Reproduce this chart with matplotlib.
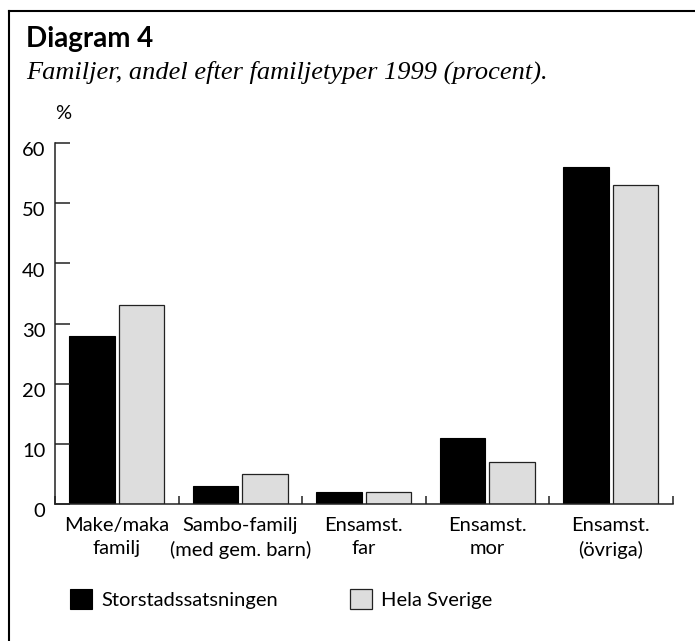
import matplotlib
matplotlib.use("Agg")
import matplotlib.pyplot as plt
import numpy as np
from matplotlib.lines import Line2D
from matplotlib.transforms import ScaledTranslation

categories = ["Make/maka\nfamilj", "Sambo-familj\n(med gem. barn)", "Ensamst.\nfar",
              "Ensamst.\nmor", "Ensamst.\n(övriga)"]
storstad = [28, 3, 2, 11, 56]
sverige = [33, 5, 2, 7, 53]
series_names = ["Storstadssatsningen", "Hela Sverige"]
yticks = [0, 10, 20, 30, 40, 50, 60]

W, H = 695, 641
fig = plt.figure(figsize=(W / 100, H / 100), dpi=100)
plt.rcParams['font.family'] = ['Lato', 'DejaVu Sans']
FS = 14.5
axc = '#222222'

ax = fig.add_axes([55 / W, 1 - 504 / H, (672.5 - 55) / W, (504 - 143) / H])
x = np.arange(len(categories))
bw = 0.37
b1 = ax.bar(x - 0.2, storstad, bw, color='black', edgecolor='black', linewidth=0.8)
b2 = ax.bar(x + 0.2, sverige, bw, color='#dddddd', edgecolor='#222222', linewidth=0.9)

ax.set_xlim(-0.5, len(categories) - 0.5)
ax.set_ylim(0, 60)
for s in ['top', 'right']:
    ax.spines[s].set_visible(False)
for s in ['left', 'bottom']:
    ax.spines[s].set_linewidth(1.1)
    ax.spines[s].set_color(axc)

ax.set_yticks(yticks)
ax.set_yticklabels([str(v) for v in yticks], fontsize=FS)
ax.tick_params(axis='y', direction='in', length=10.8, width=1.1, color=axc, pad=7)
off = ScaledTranslation(0, -4.5 / 72, fig.dpi_scale_trans)
for lab in ax.get_yticklabels():
    lab.set_transform(lab.get_transform() + off)

ax.set_xticks(x)
ax.set_xticklabels(categories, fontsize=FS, linespacing=1.45)
ax.tick_params(axis='x', which='major', length=0, pad=9.2)
ax.set_xticks(np.arange(-0.5, len(categories), 1.0), minor=True)
ax.tick_params(axis='x', which='minor', direction='in', length=5.8, width=1.1, color=axc)

fig.text(63 / W, 1 - 113.5 / H, "%", fontsize=FS, ha='center', va='center')
fig.text(26 / W, 1 - 46.7 / H, "Diagram 4", fontsize=20, fontweight='bold',
         ha='left', va='baseline')
fig.text(26 / W, 1 - 79 / H, "Familjer, andel efter familjetyper 1999 (procent).",
         fontsize=19, style='italic', family=['Liberation Serif', 'DejaVu Serif'],
         ha='left', va='baseline')

# frame lines (top and left)
fig.add_artist(Line2D([9 / W, 1], [1 - 11 / H, 1 - 11 / H], color='black', lw=1.5,
                      transform=fig.transFigure))
fig.add_artist(Line2D([9 / W, 9 / W], [0, 1 - 11 / H], color='black', lw=1.5,
                      transform=fig.transFigure))

hl = 22 / (FS * 100 / 72)
for handle, name, xpos in [(b1, series_names[0], 70), (b2, series_names[1], 350)]:
    leg = fig.legend([handle], [name], loc='center left',
                     bbox_to_anchor=(xpos / W, 1 - 599 / H), frameon=False,
                     fontsize=FS, borderpad=0, borderaxespad=0,
                     handlelength=hl, handleheight=hl, handletextpad=0.45)

fig.savefig("out.png", dpi=100)
